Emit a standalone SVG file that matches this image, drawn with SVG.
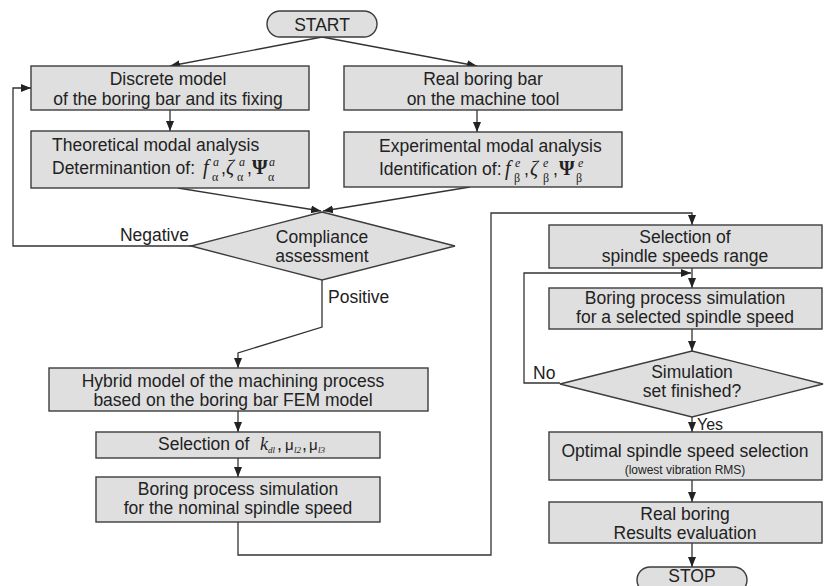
<svg xmlns="http://www.w3.org/2000/svg" width="824" height="586" viewBox="0 0 824 586">
<style>
.box{fill:#dfdfdf;stroke:#3c3c3c;stroke-width:1.4}
.t{font-family:"Liberation Sans",Arial,sans-serif;font-size:17.5px;fill:#222}
.c{text-anchor:middle}
.m{font-family:"Liberation Serif","Times New Roman",serif;fill:#222}
.mi{font-style:italic}
.big{font-size:20px}
.sm{font-size:12px}
.xs{font-size:9px}
.ln{fill:none;stroke:#333;stroke-width:1.3}
</style>
<defs>
<marker id="ar" markerUnits="userSpaceOnUse" markerWidth="10" markerHeight="10" viewBox="0 0 10 10" refX="10" refY="5" orient="auto">
<path d="M0,1 L10,5 L0,9 Z" fill="#222"/>
</marker>
</defs>
<rect width="824" height="586" fill="#fff"/>

<g id="connectors">
<line class="ln" x1="322" y1="37" x2="170" y2="66" marker-end="url(#ar)"/>
<line class="ln" x1="322" y1="37" x2="477" y2="66" marker-end="url(#ar)"/>
<line class="ln" x1="170" y1="110" x2="170" y2="131" marker-end="url(#ar)"/>
<line class="ln" x1="477" y1="110" x2="477" y2="132" marker-end="url(#ar)"/>
<line class="ln" x1="178" y1="188" x2="321" y2="211" marker-end="url(#ar)"/>
<line class="ln" x1="470" y1="187" x2="323" y2="211" marker-end="url(#ar)"/>
<polyline class="ln" points="192,246 13,246 13,88 31,88" marker-end="url(#ar)"/>
<polyline class="ln" points="322,280 322,327 238,353 238,368" marker-end="url(#ar)"/>
<line class="ln" x1="238" y1="411" x2="238" y2="432" marker-end="url(#ar)"/>
<line class="ln" x1="238" y1="458" x2="238" y2="477" marker-end="url(#ar)"/>
<polyline class="ln" points="238,522 238,555 491,555 491,213 692,213 692,225" marker-end="url(#ar)"/>
<line class="ln" x1="692" y1="268" x2="692" y2="288" marker-end="url(#ar)"/>
<polyline class="ln" points="560,383 524,383 524,273 691,273" marker-end="url(#ar)"/>
<line class="ln" x1="692" y1="329" x2="692" y2="351" marker-end="url(#ar)"/>
<line class="ln" x1="692" y1="417" x2="692" y2="432" marker-end="url(#ar)"/>
<line class="ln" x1="692" y1="480" x2="692" y2="502" marker-end="url(#ar)"/>
<line class="ln" x1="692" y1="543" x2="692" y2="567" marker-end="url(#ar)"/>
<text class="t" x="189" y="241" text-anchor="end">Negative</text>
<text class="t" x="328" y="303">Positive</text>
<text class="t" x="533" y="379">No</text>
<text class="t" x="697" y="430" style="font-size:16px">Yes</text>
</g>

<g id="start">
<rect class="box" x="267" y="11" width="110" height="26" rx="13"/>
<text class="t c" x="322" y="31">START</text>
</g>

<g id="discrete">
<rect class="box" x="31" y="66" width="278" height="44"/>
<text class="t c" x="168" y="85">Discrete model</text>
<text class="t c" x="168" y="105">of the boring bar and its fixing</text>
</g>

<g id="real-bar">
<rect class="box" x="344" y="66" width="278" height="44"/>
<text class="t c" x="483" y="85">Real boring bar</text>
<text class="t c" x="483" y="105">on the machine tool</text>
</g>

<g id="theoretical">
<rect class="box" x="31" y="131" width="278" height="57"/>
<text class="t" x="52" y="151">Theoretical modal analysis</text>
<text class="t" x="52" y="174">Determinantion of:</text>
<text class="m mi big" x="203" y="174">f</text>
<text class="m sm" x="212" y="181">α</text>
<text class="m mi sm" x="213" y="166">a</text>
<text class="t" x="221" y="174">,</text>
<text class="m mi big" x="226" y="174">ζ</text>
<text class="m sm" x="237" y="181">α</text>
<text class="m mi sm" x="239" y="166">a</text>
<text class="t" x="247" y="174">,</text>
<text class="m big" x="252" y="174" font-weight="bold">Ψ</text>
<text class="m sm" x="268" y="181">α</text>
<text class="m mi sm" x="269" y="166">a</text>
</g>

<g id="experimental">
<rect class="box" x="344" y="132" width="278" height="55"/>
<text class="t" x="379" y="152">Experimental modal analysis</text>
<text class="t" x="379" y="175">Identification of:</text>
<text class="m mi big" x="505" y="175">f</text>
<text class="m sm" x="514" y="182">β</text>
<text class="m mi sm" x="515" y="167">e</text>
<text class="t" x="524" y="175">,</text>
<text class="m mi big" x="530" y="175">ζ</text>
<text class="m sm" x="543" y="182">β</text>
<text class="m mi sm" x="543" y="167">e</text>
<text class="t" x="553" y="175">,</text>
<text class="m big" x="559" y="175" font-weight="bold">Ψ</text>
<text class="m sm" x="576" y="182">β</text>
<text class="m mi sm" x="578" y="167">e</text>
</g>

<g id="compliance">
<polygon class="box" points="322,212 455,246 322,280 191,246"/>
<text class="t c" x="322" y="243">Compliance</text>
<text class="t c" x="322" y="262">assessment</text>
</g>

<g id="hybrid">
<rect class="box" x="49" y="368" width="379" height="43"/>
<text class="t c" x="233" y="387">Hybrid model of the machining process</text>
<text class="t c" x="233" y="406">based on the boring bar FEM model</text>
</g>

<g id="selection-k">
<rect class="box" x="96" y="432" width="284" height="26"/>
<text class="t" x="158" y="450">Selection of</text>
<text class="m mi" x="260" y="450" style="font-size:18px">k</text>
<text class="m mi xs" x="268" y="453">dl</text>
<text class="t" x="277" y="450">,</text>
<text class="t" x="285" y="450" style="font-size:15px">μ</text>
<text class="m mi xs" x="294" y="453">l2</text>
<text class="t" x="302" y="450">,</text>
<text class="t" x="309" y="450" style="font-size:15px">μ</text>
<text class="m mi xs" x="318" y="453">l3</text>
</g>

<g id="boring-nominal">
<rect class="box" x="96" y="477" width="284" height="45"/>
<text class="t c" x="238" y="495">Boring process simulation</text>
<text class="t c" x="238" y="514">for the nominal spindle speed</text>
</g>

<g id="speeds-range">
<rect class="box" x="549" y="225" width="273" height="43"/>
<text class="t c" x="685" y="243">Selection of</text>
<text class="t c" x="685" y="262">spindle speeds range</text>
</g>

<g id="boring-selected">
<rect class="box" x="549" y="288" width="273" height="41"/>
<text class="t c" x="685" y="304">Boring process simulation</text>
<text class="t c" x="685" y="323">for a selected spindle speed</text>
</g>

<g id="sim-finished">
<polygon class="box" points="692,351 823,384 692,417 560,384"/>
<text class="t c" x="692" y="378">Simulation</text>
<text class="t c" x="692" y="397">set finished?</text>
</g>

<g id="optimal">
<rect class="box" x="549" y="432" width="273" height="48"/>
<text class="t c" x="685" y="457">Optimal spindle speed selection</text>
<text class="t c" x="685" y="474" style="font-size:12px">(lowest vibration RMS)</text>
</g>

<g id="real-boring">
<rect class="box" x="549" y="502" width="273" height="41"/>
<text class="t c" x="685" y="520">Real  boring</text>
<text class="t c" x="685" y="539">Results evaluation</text>
</g>

<g id="stop">
<rect class="box" x="637" y="567" width="110" height="26" rx="13"/>
<text class="t c" x="692" y="582">STOP</text>
</g>
</svg>
